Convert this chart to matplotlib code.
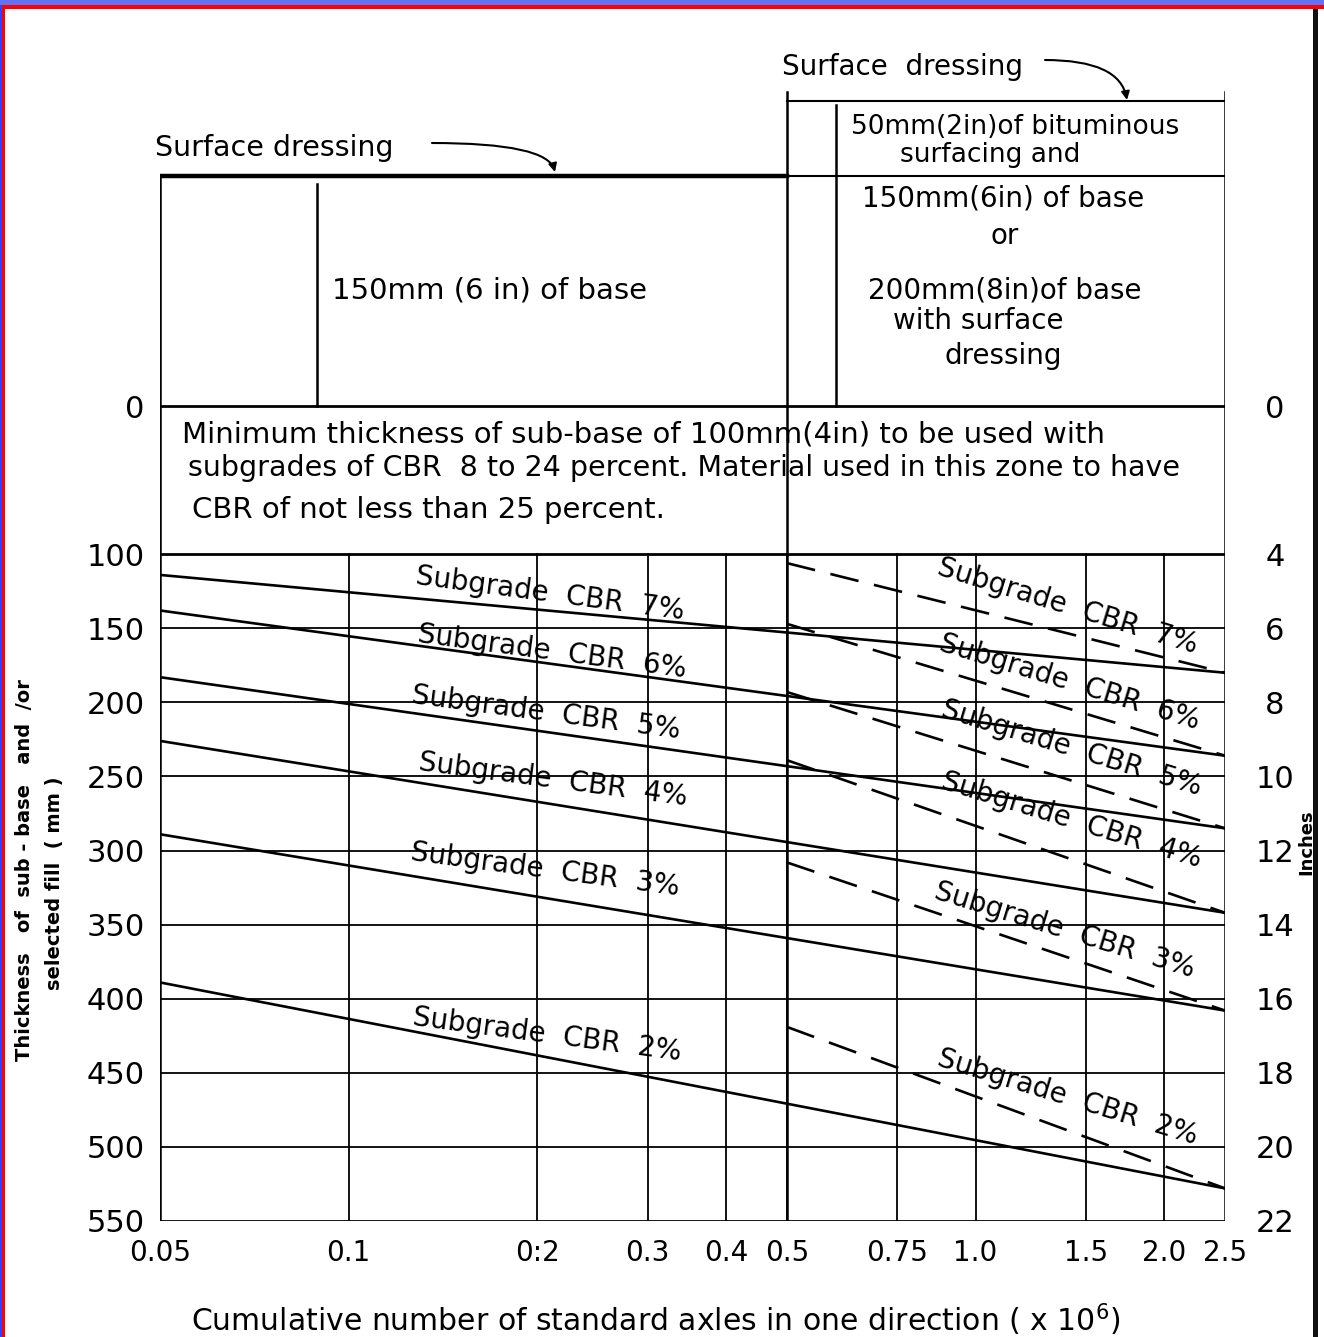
import matplotlib
matplotlib.use("Agg")
import matplotlib.pyplot as plt
from matplotlib.patches import Rectangle

# ---------------- data ----------------
cbr = [7, 6, 5, 4, 3, 2]
solid_start = [114, 138, 183, 226, 289, 389]   # mm at 0.05 msa
solid_end = [180, 236, 285, 342, 408, 528]     # mm at 2.5 msa
dashed_start = [106, 147, 193, 239, 308, 419]  # mm at 0.5 msa
x_first, x_break, x_last = 0.05, 0.5, 2.5

x_ticks = [0.05, 0.1, 0.2, 0.3, 0.4, 0.5, 0.75, 1.0, 1.5, 2.0, 2.5]
x_tick_labels = ['0.05', '0.1', '0:2', '0.3', '0.4', '0.5', '0.75', '1.0', '1.5', '2.0', '2.5']
grid_x = [0.1, 0.2, 0.3, 0.4, 0.5, 0.75, 1.0, 1.5, 2.0]
mm_ticks = [0, 100, 150, 200, 250, 300, 350, 400, 450, 500, 550]
inch_labels = [0, 4, 6, 8, 10, 12, 14, 16, 18, 20, 22]
grid_y = [150, 200, 250, 300, 350, 400, 450, 500]

# zone boundaries (mm, negative = above formation level)
base_top = -155
surf_top = -206
left_div_x = 0.089
right_div_x = 0.6

W, H = 1324, 1337
fig = plt.figure(figsize=(W / 100, H / 100), dpi=100)
fig.patch.set_facecolor('white')
ax = fig.add_axes([160 / W, (H - 1221) / H, (1225 - 160) / W, (1221 - 80) / H])
ax.set_xscale('log')
ax.set_xlim(x_first, x_last)
ax.set_ylim(550, -220)
for s in ax.spines.values():
    s.set_visible(False)
ax.set_facecolor('none')

K = 'black'
# grid
for g in grid_y:
    ax.plot([x_first, x_last], [g, g], color=K, lw=1.3)
for g in grid_x:
    ax.plot([g, g], [100, 550], color=K, lw=1.3)
ax.plot([x_break, x_break], [surf_top - 6, 550], color=K, lw=1.8)
# frame lines
ax.plot([x_first, x_last], [550, 550], color=K, lw=2)
ax.plot([x_first, x_last], [100, 100], color=K, lw=2)
ax.plot([x_first, x_last], [0, 0], color=K, lw=2)
ax.plot([x_first, x_first], [base_top, 550], color=K, lw=1.8)
ax.plot([x_last, x_last], [surf_top - 6, 550], color=K, lw=1.8)
# top zones
ax.plot([x_first, x_break], [base_top, base_top], color=K, lw=3.2)
ax.plot([left_div_x, left_div_x], [base_top + 5, 0], color=K, lw=1.8)
ax.plot([x_break, x_last], [surf_top, surf_top], color=K, lw=1.5)
ax.plot([x_break, x_last], [base_top, base_top], color=K, lw=1.5)
ax.plot([right_div_x, right_div_x], [surf_top + 3, 0], color=K, lw=1.8)

# design curves
for i in range(len(cbr)):
    ax.plot([x_first, x_last], [solid_start[i], solid_end[i]], color=K, lw=1.9)
    ax.plot([x_break, x_last], [dashed_start[i], solid_end[i]], color=K, lw=1.9,
            ls=(0, (11, 6)))

# ticks
ax.set_xticks(x_ticks)
ax.set_xticklabels(x_tick_labels, fontsize=20)
ax.xaxis.set_minor_locator(matplotlib.ticker.NullLocator())
ax.set_yticks(mm_ticks)
ax.set_yticklabels([str(v) for v in mm_ticks], fontsize=22)
ax.tick_params(axis='x', length=0, pad=13)
ax.tick_params(axis='y', length=0, pad=11)

ax2 = ax.twinx()
ax2.set_ylim(550, -220)
for s in ax2.spines.values():
    s.set_visible(False)
ax2.set_yticks([v * 25 for v in inch_labels])
ax2.set_yticklabels([str(v) for v in inch_labels], fontsize=22, ha='center')
ax2.tick_params(axis='y', length=0, pad=36)


def T(x, y, s, **kw):
    fig.text(x / W, 1 - y / H, s, **kw)


# curve labels
left_pos = [(550, 594), (552, 652), (546, 713), (553, 780), (545, 870), (547, 1035)]
right_pos = [(1068, 606), (1070, 682), (1072, 748), (1072, 820), (1065, 930), (1068, 1097)]
for i, c in enumerate(cbr):
    T(*left_pos[i], f"Subgrade  CBR  {c}%", fontsize=20, ha='center', va='center',
      rotation=-7.5, rotation_mode='anchor')
    T(*right_pos[i], f"Subgrade  CBR  {c}%", fontsize=20, ha='center', va='center',
      rotation=-17, rotation_mode='anchor')

# top zone texts
T(155, 148, "Surface dressing", fontsize=20.5, ha='left', va='center')
T(782, 67, "Surface  dressing", fontsize=20, ha='left', va='center')
T(332, 290, "150mm (6 in) of base", fontsize=21, ha='left', va='center')
for (x, y, s, fs) in [(1015, 127, "50mm(2in)of bituminous", 19),
                      (990, 155, "surfacing and", 19),
                      (1003, 199, "150mm(6in) of base", 20), (1005, 236, "or", 20),
                      (1005, 290, "200mm(8in)of base", 20), (978, 321, "with surface", 20),
                      (1003, 356, "dressing", 20)]:
    T(x, y, s, fontsize=fs, ha='center', va='center')

ax.annotate("", xy=(555, H - 172), xycoords='figure pixels',
            xytext=(432, H - 143), textcoords='figure pixels',
            arrowprops=dict(arrowstyle='-|>', color=K, lw=1.5,
                            connectionstyle='angle3,angleA=0,angleB=-75',
                            shrinkA=0, shrinkB=0, mutation_scale=12))
ax.annotate("", xy=(1127, H - 100), xycoords='figure pixels',
            xytext=(1045, H - 60), textcoords='figure pixels',
            arrowprops=dict(arrowstyle='-|>', color=K, lw=1.5,
                            connectionstyle='angle3,angleA=0,angleB=-80',
                            shrinkA=0, shrinkB=0, mutation_scale=12))

# middle zone text
T(182, 434, "Minimum thickness of sub-base of 100mm(4in) to be used with",
  fontsize=21, ha='left', va='center')
T(188, 468, "subgrades of CBR  8 to 24 percent. Material used in this zone to have",
  fontsize=20.5, ha='left', va='center')
T(192, 510, "CBR of not less than 25 percent.", fontsize=21, ha='left', va='center')

# axis titles
T(656, 1320, "Cumulative number of standard axles in one direction ( x 10$^6$)",
  fontsize=21.5, ha='center', va='center')
T(25, 870, "Thickness   of  sub - base   and  /or", fontsize=14, fontweight='bold',
  rotation=90, ha='center', va='center')
T(55, 883, "selected fill  ( mm )", fontsize=14, fontweight='bold',
  rotation=90, ha='center', va='center')
T(1306, 842, "Inches", fontsize=13, fontweight='bold', rotation=90, ha='center', va='center')

# scan border
fig.add_artist(Rectangle((0, 1 - 5 / H), 1, 5 / H, transform=fig.transFigure,
                         color='#6272f2', lw=0))
fig.add_artist(Rectangle((0, 1 - 9 / H), 1, 4 / H, transform=fig.transFigure,
                         color='#ff0000', lw=0))
fig.add_artist(Rectangle((0, 0), 5 / W, 1 - 5 / H, transform=fig.transFigure,
                         color='#ff0000', lw=0))
fig.add_artist(Rectangle((0, 0), 1.5 / W, 1 - 5 / H, transform=fig.transFigure,
                         color='#3040ff', lw=0))
fig.add_artist(Rectangle((1313 / W, 0), 5 / W, 1 - 9 / H, transform=fig.transFigure,
                         color='#111111', lw=0))

fig.savefig("out.png", dpi=100)
